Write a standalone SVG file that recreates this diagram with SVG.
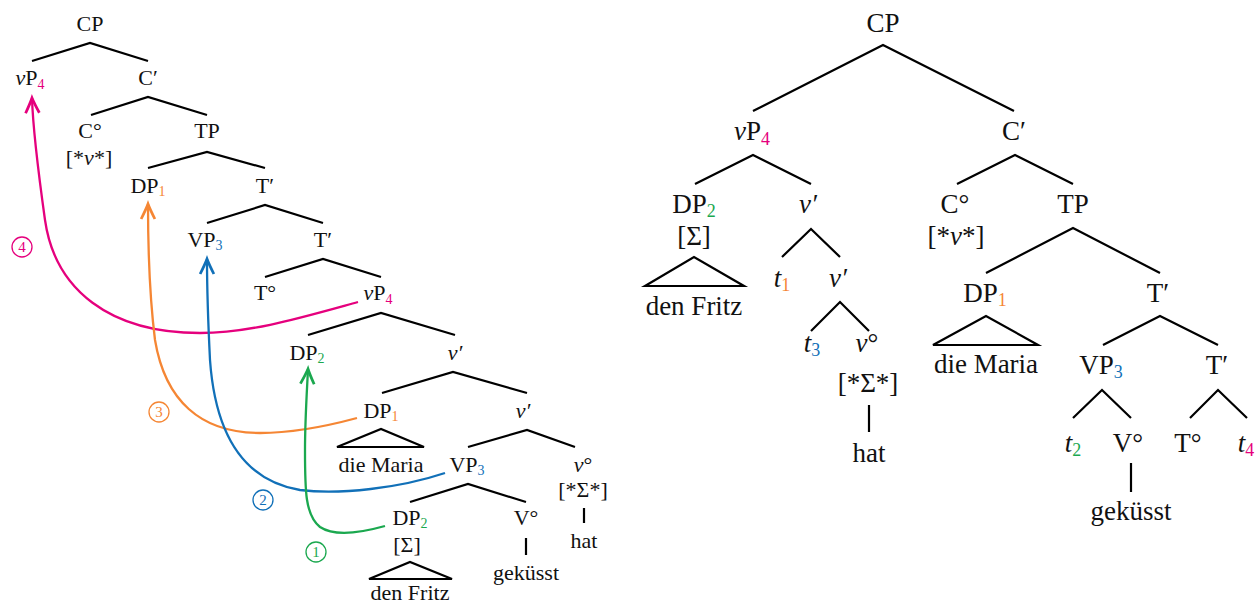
<svg xmlns="http://www.w3.org/2000/svg" width="1256" height="606" viewBox="0 0 1256 606" font-family="'Liberation Serif', Tinos, 'Times New Roman', 'DejaVu Serif', serif">
  <style>
    text { font-family: "Liberation Serif", Tinos, "Times New Roman", "DejaVu Serif", serif; fill: #111; text-anchor: middle; }
    .sm { font-size: 22px; }
    .lg { font-size: 27px; }
    .it { font-style: italic; }
    .edge { stroke: #000; stroke-width: 2.2; fill: none; stroke-linejoin: miter; }
    .mv { fill: none; stroke-width: 2.3; }
    .num { font-size: 15px; }
    .pk { fill: #e5007d; } .or { fill: #f58634; } .bl { fill: #1170b8; } .gr { fill: #1ba84f; }
    .ssm { font-size: 14px; }
    .slg { font-size: 18px; }
  </style>
  <defs>
    <marker id="ah-pk" markerUnits="userSpaceOnUse" orient="auto" markerWidth="20" markerHeight="20" refX="0" refY="0" viewBox="-14 -8 16 16" overflow="visible">
      <path d="M -12 -5.5 Q -4 -1.5 0 0 Q -4 1.5 -12 5.5" fill="none" stroke="#e5007d" stroke-width="2.2"/>
    </marker>
    <marker id="ah-or" markerUnits="userSpaceOnUse" orient="auto" markerWidth="20" markerHeight="20" refX="0" refY="0" viewBox="-14 -8 16 16" overflow="visible">
      <path d="M -12 -5.5 Q -4 -1.5 0 0 Q -4 1.5 -12 5.5" fill="none" stroke="#f58634" stroke-width="2.2"/>
    </marker>
    <marker id="ah-bl" markerUnits="userSpaceOnUse" orient="auto" markerWidth="20" markerHeight="20" refX="0" refY="0" viewBox="-14 -8 16 16" overflow="visible">
      <path d="M -12 -5.5 Q -4 -1.5 0 0 Q -4 1.5 -12 5.5" fill="none" stroke="#1170b8" stroke-width="2.2"/>
    </marker>
    <marker id="ah-gr" markerUnits="userSpaceOnUse" orient="auto" markerWidth="20" markerHeight="20" refX="0" refY="0" viewBox="-14 -8 16 16" overflow="visible">
      <path d="M -12 -5.5 Q -4 -1.5 0 0 Q -4 1.5 -12 5.5" fill="none" stroke="#1ba84f" stroke-width="2.2"/>
    </marker>
  </defs>

  <!-- ===== Left tree: branches ===== -->
  <g id="left-edges" class="edge">
    <path d="M32,61 L90,43 L148,61"/>
    <path d="M91,115 L148,97 L207,115"/>
    <path d="M148,168 L207,152 L265,168"/>
    <path d="M207,223 L265,205 L323,223"/>
    <path d="M265,277 L323,259 L381,277"/>
    <path d="M308,335 L381,313 L455,335"/>
    <path d="M382,393 L453,372 L527,393"/>
    <path d="M468,447 L527,430 L575,447"/>
    <path d="M410,502 L468,484 L526,502"/>
    <path d="M337,447 L381,429 L424,447 Z"/>
    <path d="M369,579 L410,562 L452,579 Z"/>
    <path d="M526,538 L526,555"/>
    <path d="M584,508 L584,523"/>
  </g>

  <!-- ===== Left tree: nodes ===== -->
  <g id="l-cp"><text class="sm" x="90" y="31">CP</text></g>
  <g id="l-vp4"><text class="sm" x="30" y="85"><tspan class="it">ν</tspan>P<tspan class="ssm pk" dy="4">4</tspan></text></g>
  <g id="l-cbar"><text class="sm" x="148" y="85">C′</text></g>
  <g id="l-c0"><text class="sm" x="90" y="138">C°</text><text class="sm" x="89" y="165">[*<tspan class="it">ν</tspan>*]</text></g>
  <g id="l-tp"><text class="sm" x="207" y="138">TP</text></g>
  <g id="l-dp1-top"><text class="sm" x="148" y="193">DP<tspan class="ssm or" dy="3">1</tspan></text></g>
  <g id="l-tbar1"><text class="sm" x="265" y="193">T′</text></g>
  <g id="l-vp3-top"><text class="sm" x="205" y="247">VP<tspan class="ssm bl" dy="3">3</tspan></text></g>
  <g id="l-tbar2"><text class="sm" x="323" y="247">T′</text></g>
  <g id="l-t0"><text class="sm" x="265" y="300">T°</text></g>
  <g id="l-vp4-low"><text class="sm" x="378" y="300"><tspan class="it">ν</tspan>P<tspan class="ssm pk" dy="4">4</tspan></text></g>
  <g id="l-dp2-mid"><text class="sm" x="307" y="360">DP<tspan class="ssm gr" dy="3">2</tspan></text></g>
  <g id="l-vbar1"><text class="sm it" x="455" y="360">ν′</text></g>
  <g id="l-dp1-low"><text class="sm" x="381" y="418">DP<tspan class="ssm or" dy="3">1</tspan></text><text class="sm" x="381" y="472">die Maria</text></g>
  <g id="l-vbar2"><text class="sm it" x="523" y="418">ν′</text></g>
  <g id="l-vp3-low"><text class="sm" x="467" y="472">VP<tspan class="ssm bl" dy="3">3</tspan></text></g>
  <g id="l-v0"><text class="sm" x="583" y="472"><tspan class="it">ν</tspan>°</text><text class="sm" x="583" y="497">[*Σ*]</text><text class="sm" x="584" y="548">hat</text></g>
  <g id="l-dp2-low"><text class="sm" x="410" y="525">DP<tspan class="ssm gr" dy="3">2</tspan></text><text class="sm" x="407" y="552">[Σ]</text><text class="sm" x="410" y="600">den Fritz</text></g>
  <g id="l-V0"><text class="sm" x="526" y="525">V°</text><text class="sm" x="526" y="580">geküsst</text></g>

  <!-- ===== Movement arrows ===== -->
  <g id="movements" class="mv">
    <path d="M358,302 C300,318 250,333 200,333 C110,333 55,290 45,220 C38,170 33,130 32,98" stroke="#e5007d" marker-end="url(#ah-pk)"/>
    <path d="M357,418 C320,428 290,433 260,433 C200,433 165,400 155,340 C150,300 148,250 148,204" stroke="#f58634" marker-end="url(#ah-or)"/>
    <path d="M445,473 C400,488 340,495 300,490 C240,480 215,430 210,360 C208,320 207,290 207,259" stroke="#1170b8" marker-end="url(#ah-bl)"/>
    <path d="M385,526 C360,533 335,537 320,527 C305,515 305,490 305,450 C305,420 307,390 308,369" stroke="#1ba84f" marker-end="url(#ah-gr)"/>
  </g>
  <g id="step-4"><circle cx="22" cy="247" r="10" fill="none" stroke="#e5007d" stroke-width="1.3"/><text class="num pk" x="22" y="252">4</text></g>
  <g id="step-3"><circle cx="159" cy="412" r="10" fill="none" stroke="#f58634" stroke-width="1.3"/><text class="num or" x="159" y="417">3</text></g>
  <g id="step-2"><circle cx="263" cy="500" r="10" fill="none" stroke="#1170b8" stroke-width="1.3"/><text class="num bl" x="263" y="505">2</text></g>
  <g id="step-1"><circle cx="316" cy="552" r="10" fill="none" stroke="#1ba84f" stroke-width="1.3"/><text class="num gr" x="316" y="557">1</text></g>

  <!-- ===== Right tree: branches ===== -->
  <g id="right-edges" class="edge">
    <path d="M753,111 L883,45 L1014,111"/>
    <path d="M695,184 L753,155 L811,184"/>
    <path d="M957,184 L1015,155 L1073,184"/>
    <path d="M645,286 L694,257 L744,286 Z"/>
    <path d="M782,257 L811,229 L840,257"/>
    <path d="M811,331 L840,302 L869,331"/>
    <path d="M869,405 L869,432"/>
    <path d="M986,273 L1073,228 L1160,273"/>
    <path d="M933,345 L986,316 L1038,345 Z"/>
    <path d="M1103,345 L1160,316 L1218,345"/>
    <path d="M1073,418 L1102,390 L1131,418"/>
    <path d="M1190,418 L1218,390 L1247,418"/>
    <path d="M1131,463 L1131,492"/>
  </g>

  <!-- ===== Right tree: nodes ===== -->
  <g id="r-cp"><text class="lg" x="883" y="32">CP</text></g>
  <g id="r-vp4"><text class="lg" x="752" y="140"><tspan class="it">ν</tspan>P<tspan class="slg pk" dy="5">4</tspan></text></g>
  <g id="r-cbar"><text class="lg" x="1014" y="140">C′</text></g>
  <g id="r-dp2"><text class="lg" x="694" y="213">DP<tspan class="slg gr" dy="4">2</tspan></text><text class="lg" x="694" y="245">[Σ]</text><text class="lg" x="694" y="315">den Fritz</text></g>
  <g id="r-vbar1"><text class="lg it" x="808" y="213">ν′</text></g>
  <g id="r-t1"><text class="lg" x="782" y="287"><tspan class="it">t</tspan><tspan class="slg or" dy="4">1</tspan></text></g>
  <g id="r-vbar2"><text class="lg it" x="838" y="287">ν′</text></g>
  <g id="r-t3"><text class="lg" x="812" y="352"><tspan class="it">t</tspan><tspan class="slg bl" dy="4">3</tspan></text></g>
  <g id="r-v0"><text class="lg" x="867" y="352"><tspan class="it">ν</tspan>°</text><text class="lg" x="868" y="392">[*Σ*]</text><text class="lg" x="869" y="462">hat</text></g>
  <g id="r-c0"><text class="lg" x="955" y="213">C°</text><text class="lg" x="956" y="245">[*<tspan class="it">ν</tspan>*]</text></g>
  <g id="r-tp"><text class="lg" x="1073" y="213">TP</text></g>
  <g id="r-dp1"><text class="lg" x="985" y="302">DP<tspan class="slg or" dy="4">1</tspan></text><text class="lg" x="986" y="373">die Maria</text></g>
  <g id="r-tbar1"><text class="lg" x="1158" y="302">T′</text></g>
  <g id="r-vp3"><text class="lg" x="1101" y="374">VP<tspan class="slg bl" dy="4">3</tspan></text></g>
  <g id="r-tbar2"><text class="lg" x="1217" y="374">T′</text></g>
  <g id="r-t2"><text class="lg" x="1073" y="452"><tspan class="it">t</tspan><tspan class="slg gr" dy="4">2</tspan></text></g>
  <g id="r-V0"><text class="lg" x="1128" y="452">V°</text><text class="lg" x="1131" y="520">geküsst</text></g>
  <g id="r-t0"><text class="lg" x="1188" y="452">T°</text></g>
  <g id="r-t4"><text class="lg" x="1246" y="452"><tspan class="it">t</tspan><tspan class="slg pk" dy="4">4</tspan></text></g>
</svg>
